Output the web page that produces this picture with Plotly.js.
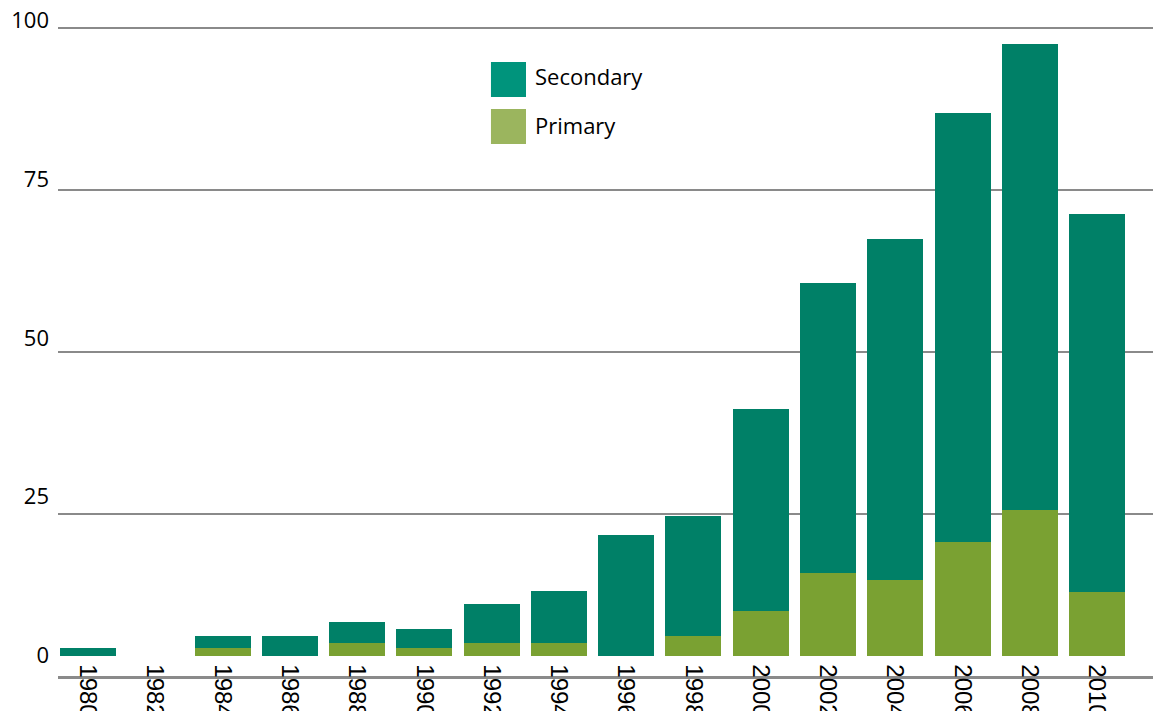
<!DOCTYPE html>
<html>
<head>
<meta charset="utf-8">
<script src="https://cdn.plot.ly/plotly-3.0.1.min.js"></script>
<style>html,body{margin:0;padding:0;background:#fff;}#chart{width:1153px;height:711px;}</style>
</head>
<body>
<div id="chart"></div>
<script>
// Data
const years = [1980, 1982, 1984, 1986, 1988, 1990, 1992, 1994, 1996, 1998, 2000, 2002, 2004, 2006, 2008, 2010];
const yearLabels = ["1980","1982","1984","1986","1988","1990","1992","1994","1996","1998","2000","2002","2004","2006","2008","2010"];
const primary   = [0, 0, 1.2, 0, 2.0, 1.2, 2.0, 2.0, 0, 3.1, 7.0, 13.0, 11.9, 17.9, 22.9, 10.0];
const secondary = [1.2, 0, 1.9, 3.1, 3.3, 3.0, 6.1, 8.2, 19.0, 18.9, 31.8, 45.7, 53.7, 67.5, 73.4, 59.5];
const yTicks = [0, 25, 50, 75, 100];
const gridTicks = [25, 50, 75, 100];
const seriesNames = ["Secondary", "Primary"];

const barSecondary = "#008067";
const barPrimary = "#7aa132";
const legSecondary = "#00947c";
const legPrimary = "#9bb55e";

const traces = [
  // invisible carrier trace so the gridline axis is drawn
  {type: "scatter", mode: "markers", x: [years[0]], y: [gridTicks[0]], yaxis: "y",
   marker: {opacity: 0}, showlegend: false, hoverinfo: "skip"},
  {type: "bar", name: seriesNames[1], x: years, y: primary, yaxis: "y2",
   marker: {color: barPrimary, line: {width: 0}}, showlegend: false, hoverinfo: "x+y"},
  {type: "bar", name: seriesNames[0], x: years, y: secondary, yaxis: "y2",
   marker: {color: barSecondary, line: {width: 0}}, showlegend: false, hoverinfo: "x+y"}
];

const layout = {
  width: 1153, height: 711,
  margin: {l: 58, r: 0, t: 3, b: 35, pad: 0},
  paper_bgcolor: "#ffffff", plot_bgcolor: "#ffffff",
  barmode: "stack", bargap: 0.168,
  showlegend: false,
  xaxis: {
    range: [1979.108, 2011.663],
    tickmode: "array", tickvals: years, ticktext: yearLabels,
    tickangle: 90,
    tickfont: {family: "'Liberation Sans', Arial, sans-serif", size: 24, color: "#000"},
    ticks: "", showgrid: false, zeroline: false,
    showline: true, linecolor: "#8a8a8a", linewidth: 2.5,
    ticklabelstandoff: -19,
    fixedrange: true
  },
  yaxis: {
    range: [0, 103.86],
    tickmode: "array", tickvals: gridTicks,
    showticklabels: false, ticks: "",
    showgrid: true, gridcolor: "#8a8a8a", gridwidth: 2,
    zeroline: false, showline: false, fixedrange: true
  },
  yaxis2: {
    overlaying: "y", side: "left",
    range: [-3.228, 102.76],
    tickmode: "array", tickvals: yTicks, ticktext: yTicks.map(String),
    tickfont: {family: "'Open Sans', 'Noto Sans', sans-serif", size: 22, color: "#000"},
    ticks: "", showgrid: false, zeroline: false, showline: false,
    ticklabelstandoff: 8,
    fixedrange: true
  },
  shapes: [
    {type: "rect", xref: "paper", yref: "paper", x0: 0.3954, x1: 0.4274, y0: 0.8603, y1: 0.9123,
     fillcolor: legSecondary, line: {width: 0}},
    {type: "rect", xref: "paper", yref: "paper", x0: 0.3954, x1: 0.4274, y0: 0.7905, y1: 0.8425,
     fillcolor: legPrimary, line: {width: 0}}
  ],
  annotations: [
    {xref: "paper", yref: "paper", x: 0.4338, y: 0.8915, xanchor: "left", yanchor: "middle",
     text: seriesNames[0], showarrow: false,
     font: {family: "'Open Sans', 'Noto Sans', sans-serif", size: 22, color: "#000"}},
    {xref: "paper", yref: "paper", x: 0.4338, y: 0.8187, xanchor: "left", yanchor: "middle",
     text: seriesNames[1], showarrow: false,
     font: {family: "'Open Sans', 'Noto Sans', sans-serif", size: 22, color: "#000"}}
  ]
};

Plotly.newPlot("chart", traces, layout, {displayModeBar: false, staticPlot: true});
</script>
</body>
</html>
